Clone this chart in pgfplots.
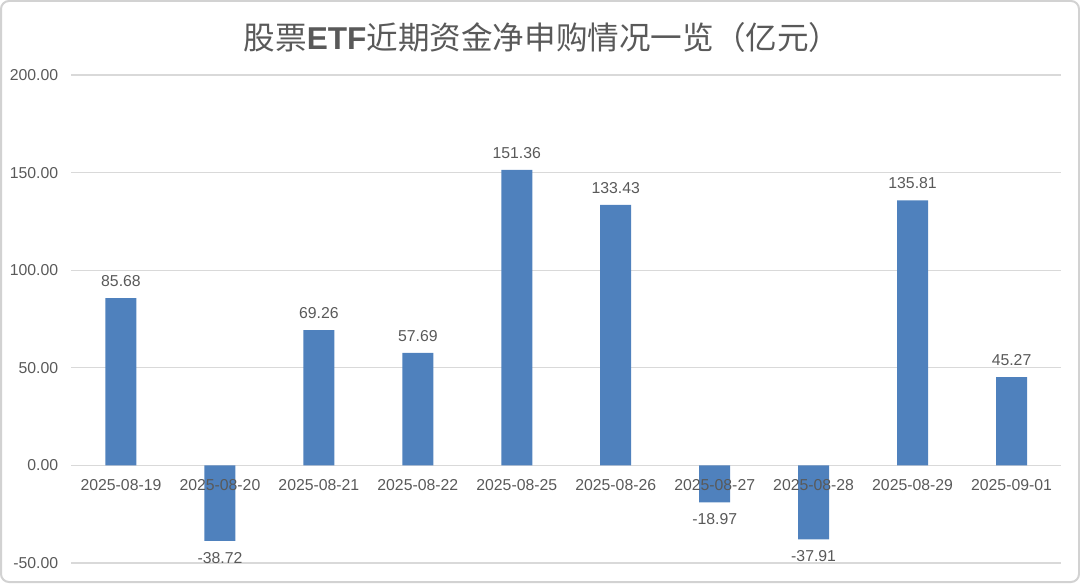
\documentclass[border=0pt]{standalone}
\usepackage{pgfplots}
\pgfplotsset{compat=1.18}
\usepackage{fontspec}
\setmainfont{Liberation Sans}
\newfontfamily\cjk{Noto Sans CJK SC}
\definecolor{barblue}{HTML}{4F81BD}
\definecolor{txtgray}{HTML}{595959}
\definecolor{gridgray}{HTML}{D9D9D9}
\pgfplotsset{base/.style={
  at={(35.75pt,10pt)}, anchor=south west,
  width=494.75pt, height=244pt, scale only axis,
  xmin=-0.5, xmax=9.5, ymin=-50, ymax=200,
  axis line style={draw=none},
  major tick style={draw=none},
  /pgf/number format/assume math mode=true,
  ticklabel style={text=txtgray, font=\fontsize{7.9}{9}\selectfont},
  clip=false}}
\begin{document}
\begin{tikzpicture}[x=1pt,y=1pt]
\useasboundingbox (0,0) rectangle (540,291.5);
\draw[rounded corners=4pt, draw=gray!35, line width=1pt] (0.5,0.5) rectangle (539.5,291);
\node[text=txtgray, font=\fontsize{15.8}{18}\selectfont] at (271,272.5) {\cjk 股票{\fontspec{Liberation Sans}\bfseries ETF}近期资金净申购情况一览（亿元）};
\begin{axis}[base,
  ytick={-50,0,50,100,150,200},
  xtick=\empty,
  axis y line=left, axis x line=bottom,
  ymajorgrids, grid style={gridgray, line width=0.6pt},
  yticklabel style={/pgf/number format/fixed, /pgf/number format/fixed zerofill, /pgf/number format/precision=2, xshift=-1pt},
  ybar, bar width=15.5pt,
  nodes near coords,
  nodes near coords style={text=txtgray, font=\fontsize{7.9}{9}\selectfont, inner ysep=5.5pt, /pgf/number format/fixed, /pgf/number format/fixed zerofill, /pgf/number format/precision=2, /pgf/number format/assume math mode=true},
]
\addplot[fill=barblue, draw=none] coordinates {
 (0,85.68) (1,-38.72) (2,69.26) (3,57.69) (4,151.36)
 (5,133.43) (6,-18.97) (7,-37.91) (8,135.81) (9,45.27)};
\end{axis}
\begin{axis}[base,
  ytick=\empty,
  axis x line=middle, axis y line=none,
  xtick={0,...,9},
  xticklabel style={yshift=-1.5pt},
  xticklabels={2025-08-19,2025-08-20,2025-08-21,2025-08-22,2025-08-25,2025-08-26,2025-08-27,2025-08-28,2025-08-29,2025-09-01},
]
\end{axis}
\end{tikzpicture}
\end{document}
